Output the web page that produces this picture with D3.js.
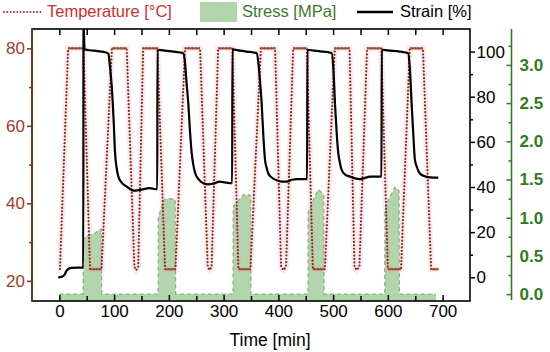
<!DOCTYPE html>
<html>
<head>
<meta charset="utf-8">
<style>
  body { margin: 0; background: #fff; }
  svg { display: block; font-family: "Liberation Sans", Arial, sans-serif; }
</style>
</head>
<body>
<svg id="chart" width="550" height="352"></svg>

<script src="https://d3js.org/d3.v7.min.js"></script>
<script>
  // temperature programme [min, °C]
  const tempTime = [1, 16, 44, 56, 77, 96, 123, 137, 140.5, 144, 153, 179, 193, 212, 229.5,
    257, 271, 274.5, 278, 290, 316, 327, 349, 368, 394, 405, 409.5, 414, 427, 452,
    463, 485, 503, 530, 539, 543.5, 548, 562, 588, 600, 624, 640, 664, 679, 692]
  const tempValue = [23, 80, 80, 23, 23, 80, 80, 23.6, 22.8, 23.6, 80, 80, 23, 23, 80,
    80, 23.6, 22.8, 23.6, 80, 80, 23, 23, 80, 80, 23.6, 22.8, 23.6, 80, 80,
    23, 23, 80, 80, 23.6, 22.8, 23.6, 80, 80, 23, 23, 80, 80, 23, 23]

  // strain [%]
  const strainTime = [-2, 4, 9, 13, 17, 22, 43.6, 44.1, 46, 55, 70, 85, 89.5, 92.5, 95.7, 99, 101.7, 104.5, 107.7, 113, 123, 135, 147, 165, 178.8,
    179.2, 190, 205, 220, 226.4, 229.5, 232, 235.5, 238.5, 241.7, 244.5, 247.8, 254, 263, 272, 281, 293, 303, 315.6,
    316.1, 330, 342, 355, 360.4, 363.5, 366, 369.5, 372.5, 375.6, 378.5, 381.6, 388, 397, 406, 415, 425, 433, 452.5,
    453, 465, 480, 488, 497.4, 500.5, 503.4, 506.5, 509.4, 512.5, 515.6, 522, 531, 540, 549, 558, 567, 588.3,
    588.8, 600, 622, 632, 637, 640, 643.4, 646.5, 649.4, 653.5, 658.5, 665, 677, 692]
  const strainValue = [0, 0.2, 1.0, 2.8, 3.8, 4.2, 4.3, 113, 101, 100.6, 100.2, 99.6, 99, 93, 84.5, 70, 55, 48.5, 44.6, 42.2, 40.2, 38.4, 38.7, 39.5, 39.0,
    100.8, 100.5, 100.1, 99.6, 99.2, 95, 87, 77, 65, 55, 50, 46.3, 43.5, 41.7, 41.2, 41.5, 42.4, 42.0, 41.7,
    101, 100.4, 100, 99.6, 99.3, 95, 88, 77, 63, 52, 48.5, 46, 44.2, 43, 42.4, 42.4, 43.2, 43.5, 43.5,
    100.8, 100.4, 100, 99.8, 99.3, 92, 77, 64, 55, 50.5, 47.6, 45.5, 44.6, 43.8, 43.5, 44, 44.6, 44.6,
    100.8, 100.5, 100, 99.6, 99.3, 93, 77, 63, 52, 48.5, 46, 45, 44.3, 44.2]

  // stress [MPa]
  const stressTime = [0, 43.6, 44, 50, 58, 66, 72, 76.8, 77.2,
    180.4, 180.8, 185, 190, 200, 211.5, 212.3,
    317.3, 317.7, 324, 336, 345, 349.2, 349.8,
    454.2, 454.6, 462, 468, 473, 479, 482.8, 483.4,
    594.3, 594.7, 600, 608, 613, 617, 620.4, 621, 688]
  const stressValue = [0, 0, 0.72, 0.76, 0.78, 0.80, 0.84, 0.85, 0,
    0, 1.0, 1.1, 1.23, 1.25, 1.24, 0,
    0, 1.15, 1.2, 1.30, 1.30, 1.29, 0,
    0, 1.08, 1.2, 1.3, 1.37, 1.33, 1.30, 0,
    0, 1.1, 1.22, 1.33, 1.40, 1.38, 1.35, 0, 0]

  const timeTicks = [0, 100, 200, 300, 400, 500, 600, 700]
  const timeMinor = [50, 150, 250, 350, 450, 550, 650]
  const tempTicks = [20, 40, 60, 80]
  const tempMinor = [30, 50, 70]
  const strainTicks = [0, 20, 40, 60, 80, 100]
  const strainMinor = [10, 30, 50, 70, 90]
  const stressTicks = [0, 0.5, 1.0, 1.5, 2.0, 2.5, 3.0]
  const stressMinor = [0.25, 0.75, 1.25, 1.75, 2.25, 2.75, 3.25]

  const temp = tempTime.map((t, i) => ({ t, v: tempValue[i] }))
  const strain = strainTime.map((t, i) => ({ t, v: strainValue[i] }))
  const stress = stressTime.map((t, i) => ({ t, v: stressValue[i] }))

  const pL = 32, pR = 470, pT = 29, pB = 301

  const x = d3.scaleLinear().domain([-50, 750]).range([pL, pR])
  const yT = d3.scaleLinear().domain([14.8, 85]).range([pB, pT])
  const yS = d3.scaleLinear().domain([-10.5, 110]).range([pB, pT])
  const yP = d3.scaleLinear().domain([-0.09, 3.47]).range([pB, pT])

  const svg = d3.select('#chart')

  svg.append('clipPath').attr('id', 'plot')
    .append('rect')
    .attr('x', pL).attr('y', pT)
    .attr('width', pR - pL).attr('height', pB - pT)

  const plot = svg.append('g').attr('clip-path', 'url(#plot)')

  // stress, filled down to the frame with a dashed edge
  plot.append('path')
    .datum(stress)
    .attr('d', d3.area().x(d => x(d.t)).y0(pB).y1(d => yP(d.v)))
    .attr('fill', '#b1d6ac')
  plot.append('path')
    .datum(stress)
    .attr('d', d3.line().x(d => x(d.t)).y(d => yP(d.v)))
    .attr('fill', 'none')
    .attr('stroke', '#84b084')
    .attr('stroke-width', 1.3)
    .attr('stroke-dasharray', '4 3')

  // temperature, dotted with a faint pink halo
  const tempLine = d3.line().x(d => x(d.t)).y(d => yT(d.v))
  plot.append('path')
    .datum(temp)
    .attr('d', tempLine)
    .attr('fill', 'none')
    .attr('stroke', 'rgba(245,160,190,0.22)')
    .attr('stroke-width', 6)
  plot.append('path')
    .datum(temp)
    .attr('d', tempLine)
    .attr('fill', 'none')
    .attr('stroke', '#7e2a1a')
    .attr('stroke-width', 2.2)
    .attr('stroke-linecap', 'round')
    .attr('stroke-dasharray', '0.01 3.4')

  // holding segments look solid
  const holds = d3.pairs(temp).filter(p => p[0].v === p[1].v)
  plot.selectAll('.hold')
    .data(holds)
    .join('line')
    .attr('class', 'hold')
    .attr('x1', d => x(d[0].t)).attr('x2', d => x(d[1].t))
    .attr('y1', d => yT(d[0].v)).attr('y2', d => yT(d[1].v))
    .attr('stroke', '#9c5028')
    .attr('stroke-width', 2)

  // strain
  plot.append('path')
    .datum(strain)
    .attr('d', d3.line().x(d => x(d.t)).y(d => yS(d.v)).curve(d3.curveMonotoneX))
    .attr('fill', 'none')
    .attr('stroke', '#000')
    .attr('stroke-width', 2.2)

  // frame
  svg.append('rect')
    .attr('x', pL).attr('y', pT)
    .attr('width', pR - pL).attr('height', pB - pT)
    .attr('fill', 'none')
    .attr('stroke', '#000')
    .attr('stroke-width', 1.6)
  svg.append('line')
    .attr('x1', pL).attr('x2', pL).attr('y1', pT).attr('y2', pB)
    .attr('stroke', '#6b3a1e')
    .attr('stroke-width', 1.8)

  function style(g, color, size, weight) {
    g.select('.domain').remove()
    g.selectAll('line').attr('stroke', color).attr('stroke-width', 1.5)
    g.selectAll('text').attr('fill', color).style('font-size', size + 'px').style('font-weight', weight || 'normal')
  }

  // time axis
  svg.append('g').attr('transform', `translate(0,${pB})`)
    .call(d3.axisBottom(x).tickValues(timeTicks).tickSize(-6).tickPadding(4).tickFormat(d3.format('d')))
    .call(g => style(g, '#000', 17))
  svg.append('g').attr('transform', `translate(0,${pB})`)
    .call(d3.axisBottom(x).tickValues(timeMinor).tickSize(-5).tickFormat(''))
    .call(g => style(g, '#000', 17))
  svg.append('g').attr('transform', `translate(0,${pT})`)
    .call(d3.axisTop(x).tickValues(timeTicks.concat(timeMinor)).tickSize(-6).tickFormat(''))
    .call(g => style(g, '#000', 17))

  // temperature axis
  svg.append('g').attr('transform', `translate(${pL},0)`)
    .call(d3.axisLeft(yT).tickValues(tempTicks).tickSize(5).tickPadding(2))
    .call(g => style(g, '#6b3a1e', 17))
    .call(g => g.selectAll('text').attr('fill', '#a33c2a'))
  svg.append('g').attr('transform', `translate(${pL},0)`)
    .call(d3.axisLeft(yT).tickValues(tempMinor).tickSize(3).tickFormat(''))
    .call(g => style(g, '#6b3a1e', 17))

  // strain axis
  svg.append('g').attr('transform', `translate(${pR},0)`)
    .call(d3.axisRight(yS).tickValues(strainTicks).tickSize(5).tickPadding(1.5))
    .call(g => style(g, '#000', 17))
  svg.append('g').attr('transform', `translate(${pR},0)`)
    .call(d3.axisRight(yS).tickValues(strainMinor).tickSize(3).tickFormat(''))
    .call(g => style(g, '#000', 17))

  // stress axis
  const green = '#327a1f', gx = 511.5
  svg.append('line')
    .attr('x1', gx).attr('x2', gx).attr('y1', pT).attr('y2', pB - 1)
    .attr('stroke', green).attr('stroke-width', 1.6)
  svg.append('g').attr('transform', `translate(${gx},0)`)
    .call(d3.axisRight(yP).tickValues(stressTicks).tickSize(-5).tickPadding(8).tickFormat(d3.format('.1f')))
    .call(g => style(g, green, 17, 'bold'))
  svg.append('g').attr('transform', `translate(${gx},0)`)
    .call(d3.axisRight(yP).tickValues(stressMinor).tickSize(-3).tickFormat(''))
    .call(g => style(g, green, 17))

  svg.append('text')
    .attr('x', 270).attr('y', 346)
    .attr('text-anchor', 'middle')
    .style('font-size', '17.5px')
    .text('Time [min]')

  // legend
  const legend = svg.append('g').style('font-size', '16.5px')
  legend.append('line')
    .attr('x1', 4).attr('x2', 42).attr('y1', 12).attr('y2', 12)
    .attr('stroke', '#b0302a').attr('stroke-width', 2)
    .attr('stroke-linecap', 'round').attr('stroke-dasharray', '0.01 3.3')
  legend.append('text').attr('x', 47).attr('y', 17).attr('fill', '#d0302c').text('Temperature [°C]')
  legend.append('rect')
    .attr('x', 200).attr('y', 2).attr('width', 37).attr('height', 20)
    .attr('fill', '#b1d6ac')
  legend.append('text').attr('x', 242).attr('y', 17).attr('fill', '#3a7a28').text('Stress [MPa]')
  legend.append('line')
    .attr('x1', 357).attr('x2', 393).attr('y1', 12).attr('y2', 12)
    .attr('stroke', '#000').attr('stroke-width', 2.7)
  legend.append('text').attr('x', 400).attr('y', 17).attr('fill', '#000').text('Strain [%]')
</script>
</body>
</html>
